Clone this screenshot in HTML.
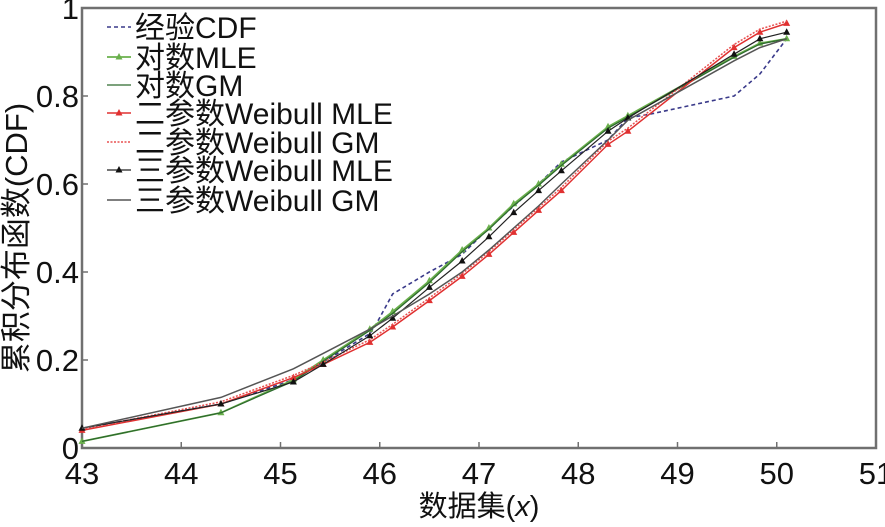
<!DOCTYPE html>
<html><head><meta charset="utf-8"><style>
body{margin:0;background:#fff}
svg text{font-family:"Liberation Sans","Noto Sans CJK SC",sans-serif;fill:#111}
</style></head><body>
<svg id="chart" width="885" height="522" viewBox="0 0 885 522">
<g id="axes"></g><g id="series"></g><g id="legend"></g>
</svg>
<script>
const xs=[43,44.4,45.13,45.43,45.9,46.13,46.5,46.83,47.1,47.35,47.6,47.83,48.3,48.5,49.57,49.83,50.1];
const empX=[43,44.4,45.13,45.43,45.9,45.96,46.13,46.5,46.83,47.1,47.35,47.6,47.83,48.3,48.5,48.75,49.57,49.83,50.1];
const empY=[0.045,0.1,0.155,0.195,0.26,0.28,0.35,0.4,0.44,0.5,0.55,0.6,0.65,0.7,0.75,0.76,0.8,0.85,0.93];
const logMLE=[0.015,0.08,0.155,0.2,0.27,0.31,0.38,0.45,0.5,0.555,0.6,0.645,0.73,0.755,0.89,0.92,0.93];
const logGM=[0.015,0.08,0.152,0.197,0.267,0.306,0.376,0.446,0.497,0.551,0.597,0.642,0.727,0.752,0.888,0.918,0.93];
const w2MLE=[0.04,0.1,0.16,0.19,0.24,0.275,0.335,0.39,0.44,0.49,0.54,0.585,0.69,0.72,0.91,0.945,0.965];
const w2GM=[0.043,0.105,0.165,0.195,0.246,0.281,0.341,0.396,0.446,0.496,0.546,0.592,0.697,0.727,0.917,0.952,0.97];
const w3MLE=[0.045,0.1,0.15,0.19,0.255,0.295,0.365,0.425,0.48,0.535,0.585,0.63,0.72,0.75,0.895,0.93,0.945];
const w3GM=[0.045,0.115,0.18,0.215,0.27,0.3,0.35,0.4,0.45,0.5,0.55,0.6,0.7,0.745,0.88,0.91,0.93];
const xTicks=[43,44,45,46,47,48,49,50,51];
const yTicks=[0,0.2,0.4,0.6,0.8,1];
const yTickLabels=["0","0.2","0.4","0.6","0.8","1"];
const legendLabels=["经验CDF","对数MLE","对数GM","二参数Weibull MLE","二参数Weibull GM","三参数Weibull MLE","三参数Weibull GM"];
const L=82,R=876,T=8,B=448;
const sx=v=>L+(v-43)/8*(R-L);
const sy=v=>B-v*(B-T);
const NS="http://www.w3.org/2000/svg";
function mk(tag,attrs,parent){const e=document.createElementNS(NS,tag);for(const k in attrs)e.setAttribute(k,attrs[k]);parent.appendChild(e);return e;}
const ax=document.getElementById('axes');
const fr=mk('rect',{x:L,y:T,width:R-L,height:B-T,fill:'none',stroke:'#707070','stroke-width':2.5},ax);


xTicks.forEach(v=>{
 const t=mk('line',{x1:sx(v),x2:sx(v),y1:B,y2:B-6,stroke:'#707070','stroke-width':1.5},ax);
 
 
 const l=mk('text',{x:sx(v),y:484,'text-anchor':'middle','font-size':31},ax);l.textContent=v;
 
 
});
yTicks.forEach((v,i)=>{
 const t=mk('line',{x1:L,x2:L+6,y1:sy(v),y2:sy(v),stroke:'#707070','stroke-width':1.5},ax);
 
 
 const l=mk('text',{x:79,y:sy(v)+11,'text-anchor':'end','font-size':31},ax);l.textContent=yTickLabels[i];
 
 
});
const xt=mk('text',{x:479,y:516,'text-anchor':'middle','font-size':29},ax);
xt.innerHTML='数据集(<tspan font-style="italic">x</tspan>)';


const yt=mk('text',{x:0,y:0,'text-anchor':'middle','font-size':31,transform:'translate(27,238) rotate(-90)'},ax);
yt.textContent='累积分布函数(CDF)';


const specs=[
 {x:empX,y:empY,c:'#3a3a8a',d:'4,3',m:false,w:1.6,n:'empirical-cdf'},
 {x:xs,y:logMLE,c:'#6ab04c',d:'',m:true,mc:'#6ab04c',w:1.8,n:'log-mle'},
 {x:xs,y:logGM,c:'#2e6a2e',d:'',m:false,w:1.3,n:'log-gm'},
 {x:xs,y:w2MLE,c:'#e03030',d:'',m:true,mc:'#e03030',w:1.5,n:'weibull2-mle'},
 {x:xs,y:w2GM,c:'#e85050',d:'2,1.5',m:false,w:1.5,n:'weibull2-gm'},
 {x:xs,y:w3MLE,c:'#222',d:'',m:true,mc:'#111',w:1.2,n:'weibull3-mle'},
 {x:xs,y:w3GM,c:'#555',d:'',m:false,w:1.5,n:'weibull3-gm'}];
const sg=document.getElementById('series');
specs.forEach(s=>{
 const p=mk('polyline',{points:s.x.map((v,i)=>sx(v)+','+sy(s.y[i])).join(' '),fill:'none',stroke:s.c,'stroke-width':s.w,'stroke-dasharray':s.d},sg);
 
 
 if(s.m)s.x.forEach((v,i)=>{
  const X=sx(v),Y=sy(s.y[i]);
  const m=mk('polygon',{points:`${X},${Y-4} ${X-3.5},${Y+2.5} ${X+3.5},${Y+2.5}`,fill:s.mc},sg);
  
  
 });
});
const lg=document.getElementById('legend');
const rowsY=[27,57,85,113,142,170,200];
legendLabels.forEach((t,i)=>{
 const s=specs[i],y=rowsY[i];
 const l=mk('line',{x1:107,x2:131,y1:y,y2:y,stroke:s.c,'stroke-width':s.w,'stroke-dasharray':s.d},lg);
 
 
 if(s.m){const m=mk('polygon',{points:`119,${y-4} 115.5,${y+2.5} 122.5,${y+2.5}`,fill:s.mc},lg);
  
  }
 const tx=mk('text',{x:135,y:y+11,'font-size':30},lg);
 tx.textContent=t;
 
 
});
</script>
</body></html>
